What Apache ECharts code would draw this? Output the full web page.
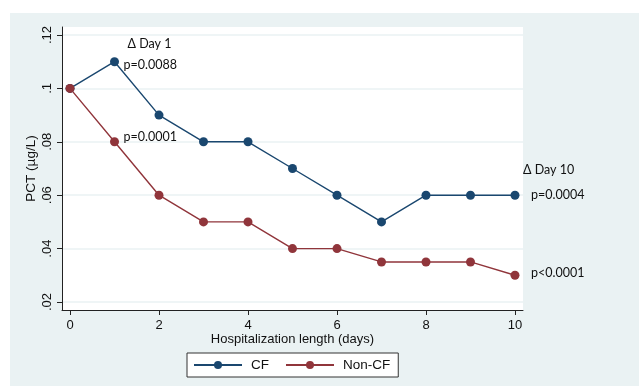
<!DOCTYPE html>
<html><head><meta charset="utf-8">
<script src="https://cdn.jsdelivr.net/npm/echarts@6/dist/echarts.min.js"></script>
<style>html,body{margin:0;padding:0;background:#fff}#c{width:639px;height:386px}</style>
</head><body><div id="c"></div>
<script>
const days = [0,1,2,3,4,5,6,7,8,9,10];
const cfValues = [0.10,0.11,0.09,0.08,0.08,0.07,0.06,0.05,0.06,0.06,0.06];
const nonCfValues = [0.10,0.08,0.06,0.05,0.05,0.04,0.04,0.035,0.035,0.035,0.03];
const xTicks = [0,2,4,6,8,10];
const yTicks = [0.02,0.04,0.06,0.08,0.10,0.12];
const yTickLabels = ['.02','.04','.06','.08','.1','.12'];
const cfNotes = [{day:1, text:'p=0.0088'},{day:10, text:'p=0.0004'}];
const nonCfNotes = [{day:1, text:'p=0.0001'},{day:10, text:'p<0.0001'}];
const headerNotes = [{day:1, value:0.11, text:'Δ Day 1'},{day:10, value:0.06, text:'Δ Day 10'}];

const BLUE='#1a476f', RED='#90353b', BG='#eaf2f3';
const chart = echarts.init(document.getElementById('c'));
const tickFont = {fontFamily:'Liberation Sans, Arial, sans-serif', fontSize:13, color:'#111'};
const noteFont = {fontFamily:'Lato, sans-serif', fontSize:12.5, color:'#111'};

function notePoints(notes, values, dy){
  return notes.map(n => ({coord:[n.day, values[n.day]], symbolSize:0,
    label:{show:true, formatter:n.text, position:'right', distance:n.day===10?16:9, offset:[0, dy(n)], ...noteFont}}));
}
const headerPts = headerNotes.map(n => ({coord:[n.day, n.value], symbolSize:0,
  label:{show:true, formatter:n.text, position:'inside', align:'left',
    offset: n.day===1 ? [13,-18] : [8,-25], ...noteFont}}));

chart.setOption({
  animation:false,
  backgroundColor:'#fff',
  graphic:[{type:'rect', z:-10, shape:{x:10,y:13,width:629,height:373}, style:{fill:BG}}],
  grid:{left:62, right:116, top:27, bottom:76, show:true, backgroundColor:'#fff', borderWidth:0},
  xAxis:{type:'value', min:-0.18, max:10.18,
    name:'Hospitalization length (days)', nameLocation:'middle', nameGap:23, nameMoveOverlap:false,
    nameTextStyle:{...tickFont},
    axisLine:{show:true, onZero:false, lineStyle:{color:'#222', width:1}},
    axisTick:{show:true, length:5, customValues:xTicks, lineStyle:{color:'#222'}},
    axisLabel:{customValues:xTicks, margin:9, ...tickFont},
    splitLine:{show:false}},
  yAxis:{type:'value', min:0.017, max:0.123,
    name:'PCT (µg/L)', nameLocation:'middle', nameGap:24, nameMoveOverlap:false,
    nameTextStyle:{...tickFont, fontSize:13.5, verticalAlign:'bottom'},
    axisLine:{show:true, onZero:false, lineStyle:{color:'#222', width:1}},
    axisTick:{show:true, length:5, customValues:yTicks, lineStyle:{color:'#222'}},
    axisLabel:{customValues:yTicks, rotate:90, margin:8, ...tickFont,
      formatter:v => { const i = yTicks.findIndex(t => Math.abs(t-v)<1e-9); return i>=0 ? yTickLabels[i] : ''; }},
    splitLine:{show:true, lineStyle:{color:BG, width:1.5}}},
  legend:{top:353, left:187, itemWidth:48, itemHeight:10, itemGap:16,
    backgroundColor:'#fff', borderColor:'#333', borderWidth:1, borderRadius:0,
    padding:[5,8,5,6], textStyle:{...tickFont, fontSize:13.5, padding:[0,0,0,4]},
    data:['CF','Non-CF']},
  series:[
    {name:'CF', type:'line', data:days.map((d,i)=>[d,cfValues[i]]), color:BLUE,
      symbol:'circle', symbolSize:9, lineStyle:{width:1.4, color:BLUE}, itemStyle:{color:BLUE},
      markPoint:{symbol:'circle', data:[...notePoints(cfNotes, cfValues, n=>n.day===1?3:0), ...headerPts]}},
    {name:'Non-CF', type:'line', data:days.map((d,i)=>[d,nonCfValues[i]]), color:RED,
      symbol:'circle', symbolSize:9, lineStyle:{width:1.4, color:RED}, itemStyle:{color:RED},
      markPoint:{symbol:'circle', data:notePoints(nonCfNotes, nonCfValues, n=>n.day===1?-5:-2)}}
  ]
});
</script></body></html>
